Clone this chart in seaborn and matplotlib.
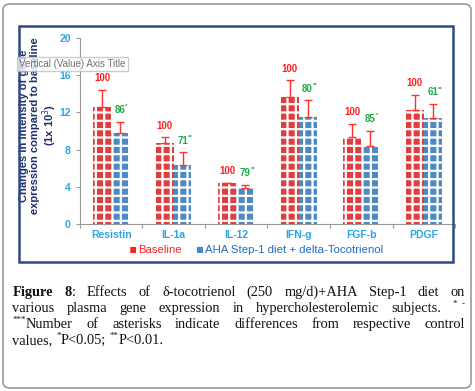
import re
import seaborn as sns
import matplotlib.pyplot as plt
import numpy as np
import pandas as pd
from matplotlib.patches import Patch, FancyBboxPatch, Rectangle
from matplotlib.transforms import IdentityTransform

genes = ['Resistin', 'IL-1a', 'IL-12', 'IFN-g', 'FGF-b', 'PDGF']
groups = ['Baseline', 'AHA Step-1 diet + delta-Tocotrienol']
baseline = [12.6, 8.7, 4.4, 13.6, 9.3, 12.3]
baseline_err = [1.8, 0.6, 0.05, 1.85, 1.45, 1.6]
diet = [9.8, 6.3, 3.9, 11.5, 8.4, 11.4]
diet_err = [1.2, 1.4, 0.3, 1.8, 1.6, 1.5]
# [..] = superscript, {..} = bold
baseline_pct = ['100', '100', '100', '100', '100', '100']
diet_pct = ['86[*]', '71[**]', '79[**]', '80[**]', '85[*]', '61[**]']
y_ticks = [0, 4, 8, 12, 16, 20]

caption = [
    '{Figure} {8}: Effects of δ-tocotrienol (250 mg/d)+AHA Step-1 diet on',
    'various plasma gene expression in hypercholesterolemic subjects. [*  -]',
    '[***]Number of asterisks indicate differences from respective control',
    'values, [*]P<0.05; [**]P<0.01.',
]

df = pd.DataFrame({
    'gene': genes * 2,
    'group': [groups[0]] * 6 + [groups[1]] * 6,
    'value': baseline + diet,
})

sns.set_style('white')
plt.rcParams['font.family'] = ['Liberation Sans', 'DejaVu Sans']
plt.rcParams['hatch.linewidth'] = 1.6

red = '#ff2020'
blue = '#3a8ad6'
tick_blue = '#2aa6e6'
green = '#1faa4a'
navy = '#1f2f6a'

fig = plt.figure(figsize=(4.75, 3.91), dpi=100)
ax = fig.add_axes([0.168, 0.427, 0.79, 0.476])
fig.canvas.draw()
renderer = fig.canvas.get_renderer()


def rich_word(word, size, **kw):
    # split a word into normal / superscript / bold pieces, return texts and widths
    pieces = [p for p in re.split(r'(\[[^\]]*\]|\{[^}]*\})', word) if p]
    objs = []
    for p in pieces:
        if p.startswith('['):
            t = fig.text(0, 0, p[1:-1], fontsize=size * 0.62, transform=IdentityTransform(),
                         va='baseline', ha='left', **kw)
            t._sup = True
        elif p.startswith('{'):
            t = fig.text(0, 0, p[1:-1], fontsize=size, fontweight='bold',
                         transform=IdentityTransform(), va='baseline', ha='left', **kw)
            t._sup = False
        else:
            t = fig.text(0, 0, p, fontsize=size, transform=IdentityTransform(),
                         va='baseline', ha='left', **kw)
            t._sup = False
        objs.append(t)
    widths = [o.get_window_extent(renderer).width for o in objs]
    return objs, widths


def place_word(objs, widths, x, y, size):
    for o, w in zip(objs, widths):
        o.set_position((x, y + (size * 0.55 if o._sup else 0)))
        x += w


sns.barplot(data=df, x='gene', y='value', hue='group', palette=[red, blue],
            width=0.57, gap=0, errorbar=None, legend=False, ax=ax)
ax.set_ylim(0, 20)
ax.set_xlim(-0.5, 5.5)

errs = [baseline_err, diet_err]
pcts = [baseline_pct, diet_pct]
pct_colors = [red, green]
bar_conts = list(ax.containers)
for k, cont in enumerate(bar_conts):
    for i, bar in enumerate(cont):
        bar.set_hatch('++')
        bar.set_edgecolor('white')
        bar.set_linewidth(0)
        xc = bar.get_x() + bar.get_width() / 2
        top = bar.get_height()
        ax.errorbar(xc, top, yerr=[[0], [errs[k][i]]], color='#ff3030',
                    elinewidth=1, capsize=3, capthick=1, zorder=3)
        px, py = ax.transData.transform((xc, top + errs[k][i] + 1.3))
        objs, ws = rich_word(pcts[k][i], 7, color=pct_colors[k], fontweight='bold')
        place_word(objs, ws, px - ws[0] / 2, py - 3.5, 9)

ax.set_yticks(y_ticks)
ax.set_xticks(np.arange(6.5) - 0.5, minor=True)
ax.tick_params(axis='x', which='major', length=0, pad=4, labelsize=7.5, labelcolor=tick_blue)
ax.tick_params(axis='x', which='minor', length=3, direction='out', color='#999999', width=0.8)
ax.tick_params(axis='y', length=3, direction='out', color='#999999', width=0.8,
               labelsize=7.5, labelcolor=tick_blue, pad=3.6)
ax.xaxis.set_ticks_position('bottom')
ax.yaxis.set_ticks_position('left')
for lab in ax.get_xticklabels() + ax.get_yticklabels():
    lab.set_fontweight('bold')
sns.despine(ax=ax)
for s in ['left', 'bottom']:
    ax.spines[s].set_color('#999999')
    ax.spines[s].set_linewidth(0.8)
ax.set_xlabel('')
ax.set_ylabel('Changes in intensity of gene\nexpression compared to baseline\n(1x 10$^{3}$)',
              fontsize=8, fontweight='bold', color=navy, linespacing=1.05)
ax.yaxis.set_label_coords(-0.056, 0.53)

handles = [Patch(facecolor=red, edgecolor='white', hatch='++', linewidth=0),
           Patch(facecolor=blue, edgecolor='white', hatch='++', linewidth=0)]
leg = ax.legend(handles, groups, loc='center', bbox_to_anchor=(0.47, -0.14), ncol=2,
                frameon=False, handlelength=0.6, handleheight=0.6, handletextpad=0.2,
                columnspacing=1.3, fontsize=8.2)
for t, c in zip(leg.get_texts(), [red, '#1a6fc4']):
    t.set_color(c)

# tooltip left over from the spreadsheet
fig.text(19 / 475, 1 - 64 / 391, 'Vertical (Value) Axis Title', fontsize=7, color='#707070',
         va='center', ha='left',
         bbox=dict(boxstyle='square,pad=0.25', facecolor='white', alpha=0.75, edgecolor='#bbbbbb'))

# frames
fig.patches.append(FancyBboxPatch((3 / 475, 3 / 391), 468 / 475, 384 / 391,
                                  boxstyle='round,pad=0,rounding_size=0.015',
                                  transform=fig.transFigure, facecolor='none',
                                  edgecolor='#999999', linewidth=1.2))
fig.patches.append(Rectangle((19 / 475, 1 - 262 / 391), 434 / 475, 236 / 391,
                             transform=fig.transFigure, facecolor='none',
                             edgecolor='#2e4a86', linewidth=1.8))

# justified caption
cap_size = 10.4
x0, x1 = 12.5, 465.0
line_base = [296, 312, 328, 344]
H = fig.bbox.height
for li, line in enumerate(caption):
    tokens = re.findall(r'(?:\[[^\]]*\]|\{[^}]*\}|\S)+', line)
    words = [rich_word(w, cap_size, family='Liberation Serif', color='#111111') for w in tokens]
    total = sum(sum(ws) for _, ws in words)
    if li < len(caption) - 1:
        gap = (x1 - x0 - total) / (len(words) - 1)
    else:
        gap = 3.6
    x = x0
    for objs, ws in words:
        place_word(objs, ws, x, H - line_base[li], cap_size)
        x += sum(ws) + gap

fig.savefig('out.png', dpi=100)
